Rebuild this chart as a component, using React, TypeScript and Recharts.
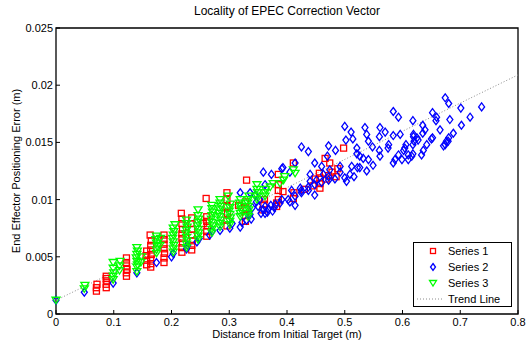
import React from 'react';
import {
  ScatterChart,
  Scatter,
  XAxis,
  YAxis,
  ReferenceArea,
  ReferenceLine,
  Legend,
} from 'recharts';

// [distance (m), error (m)] pairs
const series1: [number, number][] = [
  [0.070, 0.0020], [0.070, 0.0023], [0.071, 0.0026],
  [0.087, 0.0023], [0.087, 0.0026], [0.088, 0.0029], [0.087, 0.0031], [0.087, 0.0033],
  [0.122, 0.0033], [0.122, 0.0036], [0.123, 0.0039], [0.122, 0.0042], [0.122, 0.0045], [0.122, 0.0049],
  [0.157, 0.0043], [0.157, 0.0047], [0.156, 0.0051], [0.157, 0.0055],
  [0.164, 0.0041], [0.164, 0.0044], [0.164, 0.0048], [0.165, 0.0052], [0.164, 0.0056], [0.164, 0.0060], [0.165, 0.0064], [0.163, 0.0069],
  [0.187, 0.0045], [0.187, 0.0049], [0.188, 0.0053], [0.187, 0.0057], [0.187, 0.0061], [0.187, 0.0065], [0.187, 0.0069],
  [0.218, 0.0054], [0.218, 0.0058], [0.219, 0.0062], [0.218, 0.0066], [0.218, 0.0070], [0.219, 0.0074], [0.218, 0.0079], [0.218, 0.0083], [0.217, 0.0088],
  [0.235, 0.0056], [0.235, 0.0060], [0.236, 0.0064], [0.235, 0.0069], [0.235, 0.0074], [0.234, 0.0079], [0.235, 0.0084],
  [0.255, 0.0079], [0.261, 0.0068], [0.261, 0.0072], [0.262, 0.0077], [0.261, 0.0081], [0.261, 0.0085], [0.260, 0.0101],
  [0.296, 0.0077], [0.296, 0.0082], [0.297, 0.0088], [0.296, 0.0094], [0.296, 0.0100], [0.296, 0.0106], [0.316, 0.0095],
  [0.328, 0.0081], [0.328, 0.0086], [0.329, 0.0092], [0.328, 0.0098], [0.330, 0.0117],
  [0.358, 0.0091], [0.360, 0.0096], [0.361, 0.0100],
  [0.382, 0.0094], [0.382, 0.0097], [0.385, 0.0100], [0.385, 0.0108], [0.385, 0.0113], [0.385, 0.0122], [0.393, 0.0107],
  [0.411, 0.0101], [0.412, 0.0106], [0.411, 0.0132],
  [0.430, 0.0109], [0.445, 0.0112], [0.449, 0.0118], [0.456, 0.0123], [0.457, 0.0114], [0.457, 0.0119], [0.457, 0.0110],
  [0.466, 0.0136], [0.468, 0.0118], [0.472, 0.0121], [0.474, 0.0132], [0.478, 0.0124], [0.485, 0.0120], [0.488, 0.0127], [0.498, 0.0145],
];

const series2: [number, number][] = [
  [0.000, 0.0012], [0.049, 0.0019], [0.099, 0.0027], [0.140, 0.0036], [0.174, 0.0045],
  [0.200, 0.0050], [0.203, 0.0053], [0.226, 0.0057], [0.228, 0.0060], [0.244, 0.0063], [0.248, 0.0066],
  [0.266, 0.0069], [0.270, 0.0072], [0.284, 0.0073], [0.301, 0.0075], [0.305, 0.0079], [0.319, 0.0076],
  [0.322, 0.0080], [0.330, 0.0082], [0.336, 0.0087], [0.338, 0.0083], [0.340, 0.0093], [0.345, 0.0104],
  [0.347, 0.0098], [0.350, 0.0094], [0.353, 0.0100],
  [0.355, 0.0088], [0.359, 0.0091], [0.362, 0.0094], [0.362, 0.0088], [0.366, 0.0089], [0.368, 0.0092],
  [0.372, 0.0095], [0.375, 0.0090], [0.378, 0.0093], [0.380, 0.0096], [0.388, 0.0097], [0.391, 0.0100],
  [0.402, 0.0100], [0.405, 0.0098], [0.408, 0.0108], [0.414, 0.0103], [0.414, 0.0095], [0.423, 0.0110],
  [0.425, 0.0108], [0.425, 0.0106], [0.437, 0.0108], [0.437, 0.0111], [0.440, 0.0116], [0.448, 0.0104],
  [0.448, 0.0113], [0.451, 0.0117], [0.460, 0.0115], [0.463, 0.0122], [0.472, 0.0120], [0.474, 0.0126],
  [0.472, 0.0117], [0.483, 0.0118], [0.492, 0.0124], [0.500, 0.0119], [0.503, 0.0116], [0.509, 0.0122],
  [0.516, 0.0120], [0.526, 0.0128], [0.538, 0.0125],
  [0.319, 0.0106], [0.336, 0.0106], [0.359, 0.0124], [0.362, 0.0113], [0.373, 0.0122], [0.391, 0.0127],
  [0.393, 0.0128], [0.405, 0.0124], [0.414, 0.0132], [0.425, 0.0146], [0.437, 0.0142], [0.440, 0.0122],
  [0.448, 0.0132], [0.460, 0.0129], [0.472, 0.0147], [0.470, 0.0138], [0.484, 0.0143], [0.492, 0.0129],
  [0.500, 0.0164], [0.511, 0.0159], [0.512, 0.0129], [0.522, 0.0128], [0.521, 0.0140], [0.532, 0.0136],
  [0.526, 0.0138], [0.514, 0.0153], [0.521, 0.0145], [0.502, 0.0152], [0.535, 0.0163], [0.538, 0.0157],
  [0.541, 0.0151], [0.541, 0.0135], [0.548, 0.0146], [0.549, 0.0130], [0.560, 0.0143], [0.560, 0.0155],
  [0.561, 0.0163], [0.561, 0.0138], [0.570, 0.0159], [0.575, 0.0145], [0.576, 0.0148], [0.584, 0.0177],
  [0.584, 0.0156], [0.584, 0.0132], [0.587, 0.0135], [0.593, 0.0172], [0.593, 0.0139], [0.596, 0.0157],
  [0.599, 0.0135], [0.602, 0.0143], [0.604, 0.0145], [0.606, 0.0148], [0.610, 0.0139], [0.610, 0.0135],
  [0.616, 0.0138], [0.618, 0.0169], [0.619, 0.0157], [0.619, 0.0155], [0.620, 0.0151], [0.618, 0.0148],
  [0.618, 0.0140], [0.625, 0.0154], [0.627, 0.0152], [0.633, 0.0139], [0.635, 0.0165], [0.635, 0.0158],
  [0.636, 0.0143], [0.639, 0.0161], [0.642, 0.0148], [0.650, 0.0153], [0.652, 0.0176], [0.652, 0.0154],
  [0.659, 0.0172], [0.658, 0.0169], [0.665, 0.0161], [0.671, 0.0147], [0.674, 0.0189], [0.674, 0.0148],
  [0.676, 0.0151], [0.679, 0.0151], [0.680, 0.0184], [0.680, 0.0154], [0.682, 0.0170], [0.688, 0.0158],
  [0.701, 0.0180], [0.702, 0.0165], [0.717, 0.0172], [0.737, 0.0181],
];

const series3: [number, number][] = [
  [0.000, 0.0012], [0.049, 0.0022], [0.050, 0.0025],
  [0.099, 0.0030], [0.099, 0.0033], [0.100, 0.0036], [0.099, 0.0040], [0.099, 0.0045],
  [0.110, 0.0038], [0.110, 0.0042], [0.111, 0.0046],
  [0.140, 0.0037], [0.140, 0.0041], [0.141, 0.0043], [0.140, 0.0046], [0.139, 0.0049], [0.140, 0.0052], [0.141, 0.0055], [0.140, 0.0058],
  [0.147, 0.0045], [0.148, 0.0050],
  [0.174, 0.0053], [0.174, 0.0056], [0.175, 0.0059], [0.174, 0.0062], [0.173, 0.0065], [0.174, 0.0068],
  [0.180, 0.0060], [0.181, 0.0066],
  [0.203, 0.0054], [0.203, 0.0057], [0.204, 0.0060], [0.203, 0.0063], [0.202, 0.0066], [0.203, 0.0069], [0.204, 0.0072], [0.203, 0.0075], [0.206, 0.0078],
  [0.226, 0.0058], [0.226, 0.0061], [0.227, 0.0064], [0.226, 0.0067], [0.225, 0.0070], [0.226, 0.0073], [0.227, 0.0076], [0.226, 0.0079], [0.226, 0.0082],
  [0.246, 0.0065], [0.246, 0.0068], [0.247, 0.0071], [0.246, 0.0074], [0.245, 0.0077], [0.246, 0.0080], [0.247, 0.0083], [0.246, 0.0086], [0.246, 0.0091],
  [0.270, 0.0071], [0.270, 0.0074], [0.271, 0.0077], [0.270, 0.0080], [0.269, 0.0083], [0.270, 0.0086], [0.271, 0.0089], [0.270, 0.0092], [0.270, 0.0095],
  [0.284, 0.0076], [0.284, 0.0079], [0.285, 0.0082], [0.284, 0.0085], [0.283, 0.0088], [0.284, 0.0091], [0.285, 0.0094], [0.284, 0.0097], [0.284, 0.0100],
  [0.301, 0.0078], [0.301, 0.0081], [0.302, 0.0084], [0.301, 0.0087], [0.300, 0.0090], [0.301, 0.0093], [0.302, 0.0096], [0.298, 0.0103],
  [0.319, 0.0085], [0.319, 0.0088], [0.320, 0.0091], [0.319, 0.0094], [0.318, 0.0097], [0.319, 0.0100],
  [0.333, 0.0085], [0.333, 0.0088], [0.334, 0.0091], [0.333, 0.0094], [0.332, 0.0097], [0.333, 0.0100], [0.334, 0.0103],
  [0.348, 0.0100], [0.348, 0.0103], [0.349, 0.0106], [0.348, 0.0109], [0.348, 0.0113],
  [0.362, 0.0103], [0.362, 0.0106], [0.363, 0.0109], [0.371, 0.0111],
  [0.376, 0.0114], [0.388, 0.0114], [0.394, 0.0117], [0.396, 0.0120], [0.411, 0.0126], [0.414, 0.0123],
];

const trendX = [0, 0.8];
const trendY = [0.0012, 0.0209];

const xTicks = [0, 0.1, 0.2, 0.3, 0.4, 0.5, 0.6, 0.7, 0.8];
const yTicks = [0, 0.005, 0.01, 0.015, 0.02, 0.025];
const legendLabels = ['Series 1', 'Series 2', 'Series 3', 'Trend Line'];

const FONT = '"Liberation Sans", Arial, Helvetica, sans-serif';
const TICK = 4;

const toPoints = (arr: [number, number][]) => arr.map(([x, y]) => ({ x, y }));

const Square = ({ cx, cy }: any) => (
  <rect x={cx - 3} y={cy - 3} width={6} height={6} fill="none" stroke="#ff0000" strokeWidth={1.3} />
);
const Diamond = ({ cx, cy }: any) => (
  <polygon
    points={`${cx},${cy - 4} ${cx + 3},${cy} ${cx},${cy + 4} ${cx - 3},${cy}`}
    fill="none"
    stroke="#0000ff"
    strokeWidth={1.3}
  />
);
const Triangle = ({ cx, cy }: any) => (
  <polygon
    points={`${cx - 4},${cy - 3} ${cx + 4},${cy - 3} ${cx},${cy + 3.5}`}
    fill="none"
    stroke="#00ff00"
    strokeWidth={1.3}
  />
);

const fmt = (v: number) => String(parseFloat(v.toFixed(3)));

const BottomTick = ({ x, y, payload }: any) => (
  <g>
    <line x1={x} x2={x} y1={y} y2={y - TICK} stroke="#000" />
    <text x={x} y={y + 12} textAnchor="middle" fontSize={11} fontFamily={FONT} fill="#000">
      {fmt(payload.value)}
    </text>
  </g>
);
const TopTick = ({ x, y }: any) => <line x1={x} x2={x} y1={y} y2={y + TICK} stroke="#000" />;
const LeftTick = ({ x, y, payload }: any) => (
  <g>
    <line x1={x} x2={x + TICK} y1={y} y2={y} stroke="#000" />
    <text x={x - 3} y={y + 4} textAnchor="end" fontSize={11} fontFamily={FONT} fill="#000">
      {fmt(payload.value)}
    </text>
  </g>
);
const RightTick = ({ x, y }: any) => <line x1={x} x2={x - TICK} y1={y} y2={y} stroke="#000" />;

const icons = [
  <rect key="a" x={16.5} y={5.5} width={5} height={5} fill="none" stroke="#ff0000" strokeWidth={1.3} />,
  <polygon key="b" points="19,4.5 21.5,8 19,11.5 16.5,8" fill="none" stroke="#0000ff" strokeWidth={1.3} />,
  <polygon key="c" points="15.5,5.5 22.5,5.5 19,11" fill="none" stroke="#00ff00" strokeWidth={1.3} />,
  <line key="d" x1={3} x2={30} y1={8} y2={8} stroke="#8c8c8c" strokeDasharray="1 2" />,
];

const LegendBox = () => (
  <div
    style={{
      width: 99,
      height: 65,
      boxSizing: 'border-box',
      border: '1px solid #000',
      background: '#fff',
      fontFamily: FONT,
      fontSize: 11,
      color: '#000',
    }}
  >
    {legendLabels.map((label) => (
      <div key={label} style={{ height: 16, display: 'flex', alignItems: 'center' }}>
        <svg width={34} height={16} style={{ flex: 'none' }}>
          {icons[legendLabels.indexOf(label)]}
        </svg>
        <span style={{ lineHeight: '16px' }}>{label}</span>
      </div>
    ))}
  </div>
);

export default function App() {
  return (
    <div style={{ position: 'absolute', left: 0, top: 0, width: 527, height: 344, background: '#fff' }}>
      <ScatterChart width={527} height={344} margin={{ top: 28, right: 9, bottom: 0, left: 6 }}>
        <XAxis
          type="number"
          dataKey="x"
          domain={[0, 0.8]}
          ticks={xTicks}
          height={30}
          axisLine={false}
          tickLine={false}
          tickSize={0}
          tickMargin={0}
          tick={<BottomTick />}
          interval={0}
        />
        <XAxis
          xAxisId="top"
          orientation="top"
          type="number"
          domain={[0, 0.8]}
          ticks={xTicks}
          height={0}
          axisLine={false}
          tickLine={false}
          tickSize={0}
          tickMargin={0}
          tick={<TopTick />}
          interval={0}
        />
        <YAxis
          type="number"
          dataKey="y"
          domain={[0, 0.025]}
          ticks={yTicks}
          width={50}
          axisLine={false}
          tickLine={false}
          tickSize={0}
          tickMargin={0}
          tick={<LeftTick />}
          interval={0}
        />
        <YAxis
          yAxisId="right"
          orientation="right"
          type="number"
          domain={[0, 0.025]}
          ticks={yTicks}
          width={0}
          axisLine={false}
          tickLine={false}
          tickSize={0}
          tickMargin={0}
          tick={<RightTick />}
          interval={0}
        />
        <ReferenceLine
          segment={[
            { x: trendX[0], y: trendY[0] },
            { x: trendX[1], y: trendY[1] },
          ]}
          stroke="#8c8c8c"
          strokeDasharray="1 2"
          strokeWidth={1}
        />
        <Scatter name="Series 1" data={toPoints(series1)} shape={<Square />} isAnimationActive={false} />
        <Scatter name="Series 2" data={toPoints(series2)} shape={<Diamond />} isAnimationActive={false} />
        <Scatter name="Series 3" data={toPoints(series3)} shape={<Triangle />} isAnimationActive={false} />
        <ReferenceArea x1={0} x2={0.8} y1={0} y2={0.025} fill="none" stroke="#000" strokeWidth={1.3} />
        <Legend
          layout="vertical"
          align="center"
          verticalAlign="middle"
          content={<LegendBox />}
          wrapperStyle={{ left: 413, top: 242, width: 99, height: 65 }}
        />
      </ScatterChart>
      <div
        style={{
          position: 'absolute',
          left: 56,
          width: 462,
          top: 4,
          textAlign: 'center',
          fontFamily: FONT,
          fontSize: 12,
          lineHeight: '15px',
          color: '#000',
        }}
      >
        Locality of EPEC Correction Vector
      </div>
      <div
        style={{
          position: 'absolute',
          left: 56,
          width: 462,
          top: 328,
          textAlign: 'center',
          fontFamily: FONT,
          fontSize: 11,
          lineHeight: '13px',
          color: '#000',
        }}
      >
        Distance from Initial Target (m)
      </div>
      <div
        style={{
          position: 'absolute',
          left: 16,
          top: 171,
          transform: 'translate(-50%, -50%) rotate(-90deg)',
          whiteSpace: 'nowrap',
          fontFamily: FONT,
          fontSize: 11,
          color: '#000',
        }}
      >
        End Effector Positioning Error (m)
      </div>
    </div>
  );
}
